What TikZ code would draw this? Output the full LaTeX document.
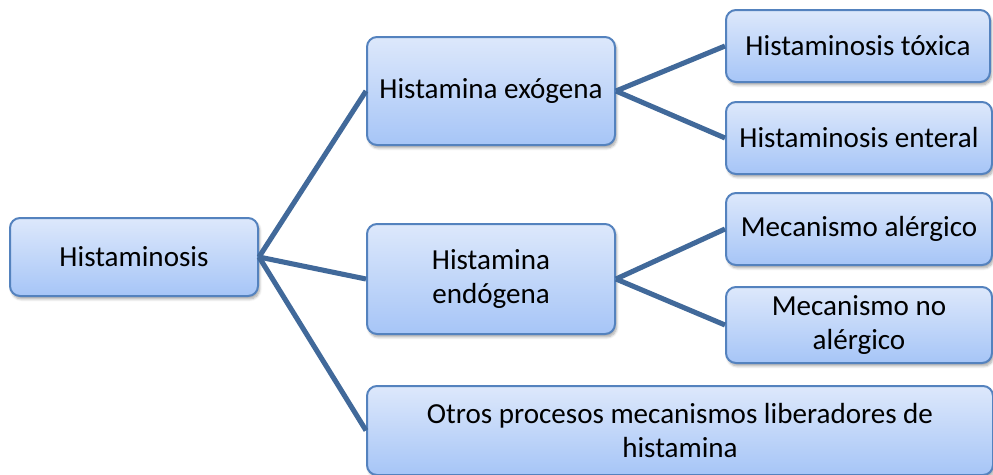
\documentclass[tikz,border=0pt]{standalone}
\usepackage{fontspec}
\setmainfont{Carlito}
\usetikzlibrary{shadows.blur}
\definecolor{boxedge}{HTML}{5482BE}
\definecolor{boxtop}{HTML}{DDE8FB}
\definecolor{boxbot}{HTML}{A6C5F7}
\definecolor{linkcol}{HTML}{41699A}
\tikzset{
  box/.style={rectangle, rounded corners=7.5pt, draw=boxedge, line width=1.5pt,
    top color=boxtop, bottom color=boxbot, align=center, inner sep=2pt,
    font=\fontsize{21.8}{26}\selectfont, text=black,
    blur shadow={shadow xshift=1.2pt, shadow yshift=-2.2pt, shadow opacity=35, shadow blur steps=6}},
  sz/.style 2 args={minimum width=#1*0.75pt, minimum height=#2*0.75pt},
  link/.style={draw=linkcol, line width=3.8pt}
}
\begin{document}
\begin{tikzpicture}[x=0.75pt,y=-0.75pt]
\useasboundingbox (0,0) rectangle (993,475);
\node[box, sz={248}{78}] (h) at (134,257) {Histaminosis};
\node[box, sz={248}{108}] (exo) at (491,91) {Histamina exógena};
\node[box, sz={264}{72}] (tox) at (858,46) {Histaminosis tóxica};
\node[box, sz={266}{72}] (ent) at (859,138) {Histaminosis enteral};
\node[box, sz={248}{110}] (endo) at (491,279) {Histamina\\endógena};
\node[box, sz={266}{72}] (ale) at (859,229) {Mecanismo alérgico};
\node[box, sz={266}{76}] (noale) at (859,325) {Mecanismo no\\alérgico};
\node[box, sz={626}{89}] (otros) at (680,430.5) {Otros procesos mecanismos liberadores de\\histamina};
\draw[link] (h.east) -- (exo.west);
\draw[link] (h.east) -- (endo.west);
\draw[link] (h.east) -- (otros.west);
\draw[link] (exo.east) -- (tox.west);
\draw[link] (exo.east) -- (ent.west);
\draw[link] (endo.east) -- (ale.west);
\draw[link] (endo.east) -- (noale.west);
\end{tikzpicture}
\end{document}
